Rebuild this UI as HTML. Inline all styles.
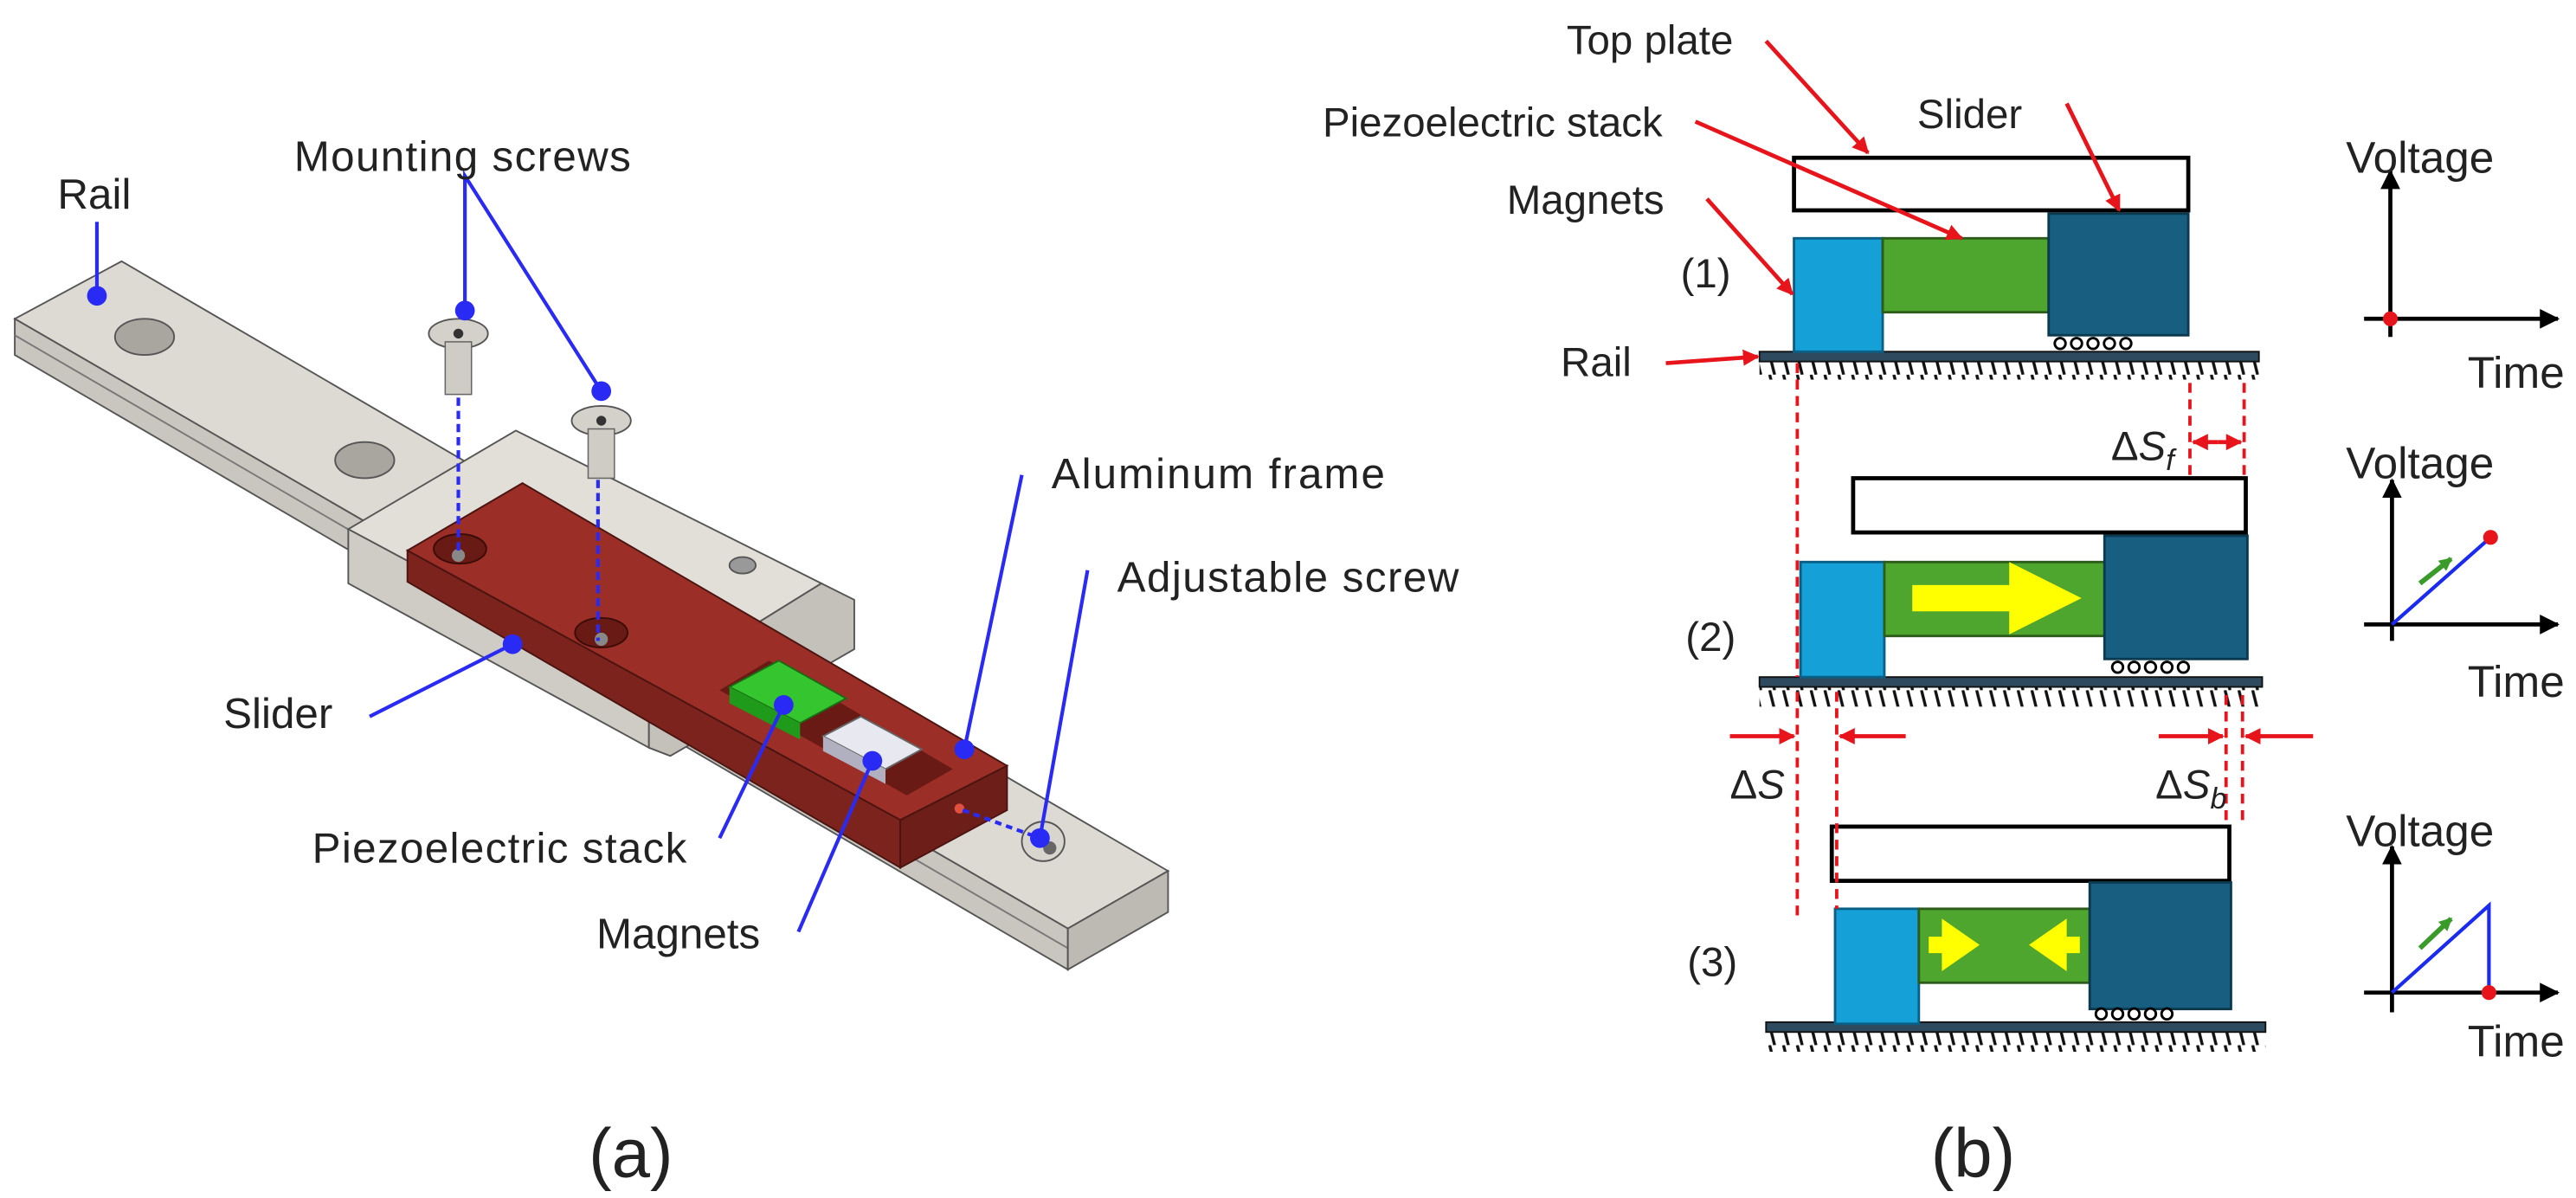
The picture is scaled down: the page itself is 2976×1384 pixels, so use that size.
<!DOCTYPE html>
<html><head><meta charset="utf-8"><style>
html,body{margin:0;padding:0;background:#fff;}
svg{display:block;}
text{font-family:"Liberation Sans",sans-serif;fill:#222;}
</style></head><body>
<svg width="2976" height="1384" viewBox="0 0 1568 729" preserveAspectRatio="none" xmlns="http://www.w3.org/2000/svg">
<defs>
<pattern id="h" width="8.4" height="12" patternUnits="userSpaceOnUse">
<line x1="2" y1="0" x2="5" y2="12" stroke="#111" stroke-width="1.8"/>
</pattern>
<marker id="ra" markerWidth="10" markerHeight="10" refX="9" refY="5" orient="auto" markerUnits="userSpaceOnUse" viewBox="0 0 10 10"><path d="M0,0 L10,5 L0,10z" fill="#e8141c"/></marker>
<marker id="ka" markerWidth="12" markerHeight="12" refX="11" refY="6" orient="auto" markerUnits="userSpaceOnUse" viewBox="0 0 12 12"><path d="M0,0 L12,6 L0,12z" fill="#000"/></marker>
<marker id="ga" markerWidth="8" markerHeight="8" refX="7" refY="4" orient="auto" markerUnits="userSpaceOnUse" viewBox="0 0 8 8"><path d="M0,0 L8,4 L0,8z" fill="#3a9a2a"/></marker>
</defs>

<!-- ===== Panel (a) ===== -->
<!-- rail -->
<polygon points="9,194 74,159 711,530 650,565" fill="#dddad4" stroke="#555" stroke-width="1"/>
<polygon points="9,194 650,565 650,590 9,216" fill="#c9c6bf" stroke="#555" stroke-width="1"/>
<line x1="9" y1="204" x2="650" y2="577" stroke="#777" stroke-width="1"/>
<polygon points="650,565 711,530 711,555 650,590" fill="#bdbab3" stroke="#555" stroke-width="1"/>
<ellipse cx="88" cy="205" rx="18" ry="11" fill="#a9a6a0" stroke="#555"/>
<ellipse cx="222" cy="280" rx="18" ry="11" fill="#a9a6a0" stroke="#555"/>
<!-- slider block -->
<polygon points="212,322 314,262 500,355 395,420" fill="#e2dfd9" stroke="#555" stroke-width="1"/>
<polygon points="212,322 395,420 395,455 212,355" fill="#cfccc5" stroke="#555" stroke-width="1"/>
<polygon points="395,420 500,355 520,365 520,395 408,460 395,455" fill="#c4c1ba" stroke="#555" stroke-width="1"/>
<ellipse cx="452" cy="344" rx="8" ry="5" fill="#999" stroke="#555"/>
<!-- red frame -->
<polygon points="248,335 318,294 613,466 548,499" fill="#9b2e26" stroke="#4a1410" stroke-width="1"/>
<polygon points="248,335 548,499 548,528 248,354" fill="#7d231d" stroke="#4a1410" stroke-width="1"/>
<polygon points="548,499 613,466 613,493 548,528" fill="#6e1e19" stroke="#4a1410" stroke-width="1"/>
<polygon points="438,420 468,402 580,468 552,484" fill="#6a1a15"/>
<ellipse cx="280" cy="334" rx="16" ry="9" fill="#6a1a15" stroke="#3a0c08"/>
<ellipse cx="366" cy="385" rx="16" ry="9" fill="#6a1a15" stroke="#3a0c08"/>
<circle cx="279" cy="338" r="4" fill="#888"/>
<circle cx="366" cy="389" r="4" fill="#888"/>
<polygon points="444,418 474,402 515,425 487,440" fill="#35c52e" stroke="#1a6a14"/>
<polygon points="444,418 487,440 487,450 444,428" fill="#1f9a1a"/>
<polygon points="501,448 524,436 561,456 539,468" fill="#e8e8f0" stroke="#666"/>
<polygon points="501,448 539,468 539,477 501,457" fill="#b0b0c0"/>
<circle cx="584" cy="492" r="3" fill="#e05040"/>
<!-- adjustable screw -->
<ellipse cx="635" cy="512" rx="13" ry="12" fill="#d8d5cf" stroke="#555"/>
<circle cx="639" cy="516" r="4" fill="#666"/>
<!-- screws -->
<ellipse cx="279" cy="203" rx="18" ry="9" fill="#d4d1cb" stroke="#555"/>
<circle cx="279" cy="203" r="3" fill="#333"/>
<rect x="271" y="208" width="16" height="32" fill="#cfccc5" stroke="#666" stroke-width="0.8"/>
<ellipse cx="366" cy="256" rx="18" ry="9" fill="#d4d1cb" stroke="#555"/>
<circle cx="366" cy="256" r="3" fill="#333"/>
<rect x="358" y="261" width="16" height="30" fill="#cfccc5" stroke="#666" stroke-width="0.8"/>
<g stroke="#2a2af5" stroke-width="2.2" fill="none">
<line x1="279" y1="242" x2="279" y2="338" stroke-dasharray="5,3"/>
<line x1="364" y1="292" x2="364" y2="390" stroke-dasharray="5,3"/>
<line x1="59" y1="135" x2="59" y2="180"/>
<polyline points="283,189 283,107 366,238"/>
<line x1="225" y1="436" x2="312" y2="392"/>
<line x1="438" y1="510" x2="477" y2="429"/>
<line x1="486" y1="567" x2="531" y2="463"/>
<line x1="622" y1="289" x2="587" y2="456"/>
<line x1="662" y1="347" x2="633" y2="510"/>
<line x1="586" y1="493" x2="633" y2="510" stroke-dasharray="4,3"/>
</g>
<g fill="#2a2af5">
<circle cx="59" cy="180" r="6"/><circle cx="283" cy="189" r="6"/><circle cx="366" cy="238" r="6"/>
<circle cx="312" cy="392" r="6"/><circle cx="477" cy="429" r="6"/><circle cx="531" cy="463" r="6"/>
<circle cx="587" cy="456" r="6"/><circle cx="633" cy="510" r="6"/>
</g>
<g font-size="26">
<text x="35" y="127">Rail</text>
<text x="179" y="104" textLength="205">Mounting screws</text>
<text x="136" y="443">Slider</text>
<text x="190" y="525" textLength="228">Piezoelectric stack</text>
<text x="363" y="577">Magnets</text>
<text x="640" y="297" textLength="203">Aluminum frame</text>
<text x="680" y="360" textLength="208">Adjustable screw</text>
</g>
<text x="384" y="716" font-size="42" text-anchor="middle">(a)</text>

<!-- ===== Panel (b) ===== -->
<g font-size="25">
<text x="1055" y="33" text-anchor="end">Top plate</text>
<text x="1012" y="83" text-anchor="end">Piezoelectric stack</text>
<text x="1013" y="130" text-anchor="end">Magnets</text>
<text x="1167" y="78">Slider</text>
<text x="950" y="229">Rail</text>
<text x="1023" y="175">(1)</text>
<text x="1026" y="396">(2)</text>
<text x="1027" y="594">(3)</text>
</g>
<!-- grounds -->
<rect x="1071" y="214" width="304" height="6" fill="#2e4a5e" stroke="#111" stroke-width="1"/>
<rect x="1071" y="220" width="304" height="11" fill="url(#h)"/>
<rect x="1071" y="412" width="306" height="6" fill="#2e4a5e" stroke="#111" stroke-width="1"/>
<rect x="1071" y="418" width="306" height="12" fill="url(#h)"/>
<rect x="1075" y="622" width="304" height="6" fill="#2e4a5e" stroke="#111" stroke-width="1"/>
<rect x="1075" y="628" width="304" height="12" fill="url(#h)"/>
<!-- state 1 -->
<rect x="1092" y="96" width="240" height="32" fill="#fff" stroke="#000" stroke-width="2.5"/>
<rect x="1092" y="145" width="54" height="69" fill="#16a0d8" stroke="#0a5f86" stroke-width="1.5"/>
<rect x="1146" y="145" width="101" height="45" fill="#4ea62e" stroke="#2d5c1a" stroke-width="1.5"/>
<rect x="1247" y="130" width="85" height="74" fill="#175e80" stroke="#0b3a50" stroke-width="1.5"/>
<g fill="#fff" stroke="#000" stroke-width="1.5"><circle cx="1254" cy="209" r="3.3"/><circle cx="1264" cy="209" r="3.3"/><circle cx="1274" cy="209" r="3.3"/><circle cx="1284" cy="209" r="3.3"/><circle cx="1294" cy="209" r="3.3"/></g>
<!-- state 2 -->
<rect x="1128" y="291" width="239" height="33" fill="#fff" stroke="#000" stroke-width="2.5"/>
<rect x="1096" y="342" width="51" height="70" fill="#16a0d8" stroke="#0a5f86" stroke-width="1.5"/>
<rect x="1147" y="342" width="134" height="45" fill="#4ea62e" stroke="#2d5c1a" stroke-width="1.5"/>
<polygon points="1164,356 1223,356 1223,342 1267,364 1223,386 1223,372 1164,372" fill="#ffff00"/>
<rect x="1281" y="326" width="87" height="75" fill="#175e80" stroke="#0b3a50" stroke-width="1.5"/>
<g fill="#fff" stroke="#000" stroke-width="1.5"><circle cx="1289" cy="406" r="3.3"/><circle cx="1299" cy="406" r="3.3"/><circle cx="1309" cy="406" r="3.3"/><circle cx="1319" cy="406" r="3.3"/><circle cx="1329" cy="406" r="3.3"/></g>
<!-- state 3 -->
<rect x="1115" y="503" width="242" height="33" fill="#fff" stroke="#000" stroke-width="2.5"/>
<rect x="1117" y="553" width="51" height="70" fill="#16a0d8" stroke="#0a5f86" stroke-width="1.5"/>
<rect x="1168" y="553" width="104" height="45" fill="#4ea62e" stroke="#2d5c1a" stroke-width="1.5"/>
<polygon points="1174,570 1182,570 1182,559 1205,575 1182,591 1182,580 1174,580" fill="#ffff00"/>
<polygon points="1266,570 1258,570 1258,559 1235,575 1258,591 1258,580 1266,580" fill="#ffff00"/>
<rect x="1272" y="537" width="86" height="77" fill="#175e80" stroke="#0b3a50" stroke-width="1.5"/>
<g fill="#fff" stroke="#000" stroke-width="1.5"><circle cx="1279" cy="617" r="3.3"/><circle cx="1289" cy="617" r="3.3"/><circle cx="1299" cy="617" r="3.3"/><circle cx="1309" cy="617" r="3.3"/><circle cx="1319" cy="617" r="3.3"/></g>
<!-- dashed red lines -->
<g stroke="#e8141c" stroke-width="2" stroke-dasharray="6,4">
<line x1="1094" y1="221" x2="1094" y2="412"/>
<line x1="1333" y1="233" x2="1333" y2="289"/>
<line x1="1366" y1="233" x2="1366" y2="289"/>
<line x1="1094" y1="421" x2="1094" y2="559"/>
<line x1="1118" y1="421" x2="1118" y2="553"/>
<line x1="1355" y1="423" x2="1355" y2="503"/>
<line x1="1365" y1="423" x2="1365" y2="503"/>
</g>
<!-- red arrows -->
<g stroke="#e8141c" stroke-width="2.5" fill="none" marker-end="url(#ra)">
<line x1="1075" y1="25" x2="1137" y2="93"/>
<line x1="1032" y1="74" x2="1194" y2="145"/>
<line x1="1039" y1="121" x2="1091" y2="179"/>
<line x1="1258" y1="63" x2="1290" y2="128"/>
<line x1="1014" y1="221" x2="1070" y2="217"/>
<line x1="1350" y1="269" x2="1335" y2="269"/>
<line x1="1350" y1="269" x2="1364" y2="269"/>
<line x1="1053" y1="448" x2="1092" y2="448"/>
<line x1="1160" y1="448" x2="1120" y2="448"/>
<line x1="1314" y1="448" x2="1353" y2="448"/>
<line x1="1408" y1="448" x2="1367" y2="448"/>
</g>
<g font-size="25" font-family="Liberation Serif">
<text x="1285" y="280" font-family="Liberation Serif">Δ<tspan font-style="italic">S</tspan><tspan font-style="italic" font-size="18" dy="6">f</tspan></text>
<text x="1053" y="486" font-family="Liberation Serif">Δ<tspan font-style="italic">S</tspan></text>
<text x="1312" y="486" font-family="Liberation Serif">Δ<tspan font-style="italic">S</tspan><tspan font-style="italic" font-size="18" dy="6">b</tspan></text>
</g>
<!-- graphs -->
<g stroke="#000" stroke-width="2.5" fill="none" marker-end="url(#ka)">
<line x1="1455" y1="205" x2="1455" y2="104"/>
<line x1="1439" y1="194" x2="1557" y2="194"/>
<line x1="1456" y1="390" x2="1456" y2="292"/>
<line x1="1439" y1="380" x2="1557" y2="380"/>
<line x1="1456" y1="616" x2="1456" y2="515"/>
<line x1="1439" y1="604" x2="1557" y2="604"/>
</g>
<g stroke="#1a2af0" stroke-width="2.2" fill="none">
<line x1="1456" y1="380" x2="1516" y2="327"/>
<polyline points="1456,604 1515,551 1515,604"/>
</g>
<g stroke="#3a9a2a" stroke-width="3" marker-end="url(#ga)">
<line x1="1473" y1="355" x2="1492" y2="340"/>
<line x1="1473" y1="577" x2="1492" y2="559"/>
</g>
<g fill="#e8141c"><circle cx="1455" cy="194" r="4.5"/><circle cx="1516" cy="327" r="4.5"/><circle cx="1515" cy="604" r="4.5"/></g>
<g font-size="27">
<text x="1428" y="105">Voltage</text><text x="1502" y="236">Time</text>
<text x="1428" y="291">Voltage</text><text x="1502" y="424">Time</text>
<text x="1428" y="515">Voltage</text><text x="1502" y="643">Time</text>
</g>
<text x="1201" y="716" font-size="42" text-anchor="middle">(b)</text>
</svg>
</body></html>
